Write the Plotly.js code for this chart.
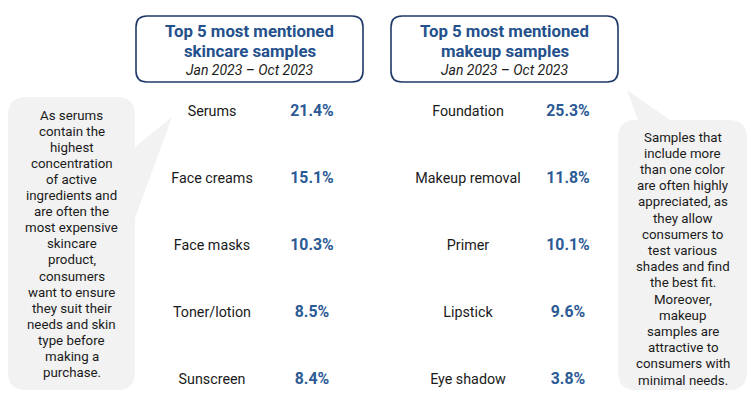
<!DOCTYPE html>
<html>
<head>
<meta charset="utf-8">
<script src="https://cdn.plot.ly/plotly-3.0.1.min.js"></script>
<style>html,body{margin:0;padding:0;background:#fff}#chart{width:752px;height:411px}</style>
</head>
<body>
<div id="chart"></div>
<script>
// ---- data ----
const skincareCategories = ["Serums", "Face creams", "Face masks", "Toner/lotion", "Sunscreen"];
const skincareShares = [21.4, 15.1, 10.3, 8.5, 8.4];
const makeupCategories = ["Foundation", "Makeup removal", "Primer", "Lipstick", "Eye shadow"];
const makeupShares = [25.3, 11.8, 10.1, 9.6, 3.8];
const skincareTitle = ["Top 5 most mentioned", "skincare samples"];
const makeupTitle = ["Top 5 most mentioned", "makeup samples"];
const periodLabel = "Jan 2023 \u2013 Oct 2023";
const skincareNote = ["As serums", "contain the", "highest", "concentration", "of active", "ingredients and", "are often the", "most expensive", "skincare", "product,", "consumers", "want to ensure", "they suit their", "needs and skin", "type before", "making a", "purchase."];
const makeupNote = ["Samples that", "include more", "than one color", "are often highly", "appreciated, as", "they allow", "consumers to", "test various", "shades and find", "the best fit.", "Moreover,", "makeup", "samples are", "attractive to", "consumers with", "minimal needs."];

// ---- styles ----
const FONT = "Roboto, 'Open Sans', Arial, sans-serif";
const TXT = "#1a1a1a";
const BLUE = "#2B5A95";
const TITLEBLUE = "#24508C";
const BORDER = "#1F3A68";
const BUBBLE = "#F2F2F2";

const rows = skincareCategories.map((_, i) => i);
const fmt = v => v.toFixed(1) + "%";

function col(xpos, texts, size, color, bold) {
  return {
    type: "scatter", mode: "text", xaxis: "x", yaxis: "y2",
    x: texts.map(() => xpos), y: rows, text: texts,
    textposition: "middle center",
    textfont: {family: FONT, size: size, color: color, weight: bold ? 700 : 400},
    hoverinfo: "skip", showlegend: false, cliponaxis: false
  };
}

const data = [
  col(212, skincareCategories, 14.3, TXT, false),
  col(312, skincareShares.map(fmt), 15.8, BLUE, true),
  col(468, makeupCategories, 14.3, TXT, false),
  col(568, makeupShares.map(fmt), 15.8, BLUE, true)
];

function roundRect(x0, y0, x1, y1, r) {
  return `M ${x0+r} ${y0} H ${x1-r} Q ${x1} ${y0} ${x1} ${y0+r} V ${y1-r} Q ${x1} ${y1} ${x1-r} ${y1} H ${x0+r} Q ${x0} ${y1} ${x0} ${y1-r} V ${y0+r} Q ${x0} ${y0} ${x0+r} ${y0} Z`;
}
function leftBubble(x0, y0, x1, y1, r, pA, tipX, tipY, pB) {
  return `M ${x0+r} ${y0} H ${x1-r} Q ${x1} ${y0} ${x1} ${y0+r} V ${pA} L ${tipX} ${tipY} L ${x1} ${pB} V ${y1-r} Q ${x1} ${y1} ${x1-r} ${y1} H ${x0+r} Q ${x0} ${y1} ${x0} ${y1-r} V ${y0+r} Q ${x0} ${y0} ${x0+r} ${y0} Z`;
}
function topBubble(x0, y0, x1, y1, r, pA, tipX, tipY, pB) {
  return `M ${x0+r} ${y0} H ${pA} L ${tipX} ${tipY} L ${pB} ${y0} H ${x1-r} Q ${x1} ${y0} ${x1} ${y0+r} V ${y1-r} Q ${x1} ${y1} ${x1-r} ${y1} H ${x0+r} Q ${x0} ${y1} ${x0} ${y1-r} V ${y0+r} Q ${x0} ${y0} ${x0+r} ${y0} Z`;
}

const shapes = [
  {type: "path", xref: "x", yref: "y", path: roundRect(136, 16, 363, 82, 11), line: {color: BORDER, width: 1.6}, fillcolor: "rgba(0,0,0,0)", layer: "below"},
  {type: "path", xref: "x", yref: "y", path: roundRect(391, 16, 618, 82, 11), line: {color: BORDER, width: 1.6}, fillcolor: "rgba(0,0,0,0)", layer: "below"},
  {type: "path", xref: "x", yref: "y", path: leftBubble(8, 97, 135, 390, 18, 147, 172, 117, 218), line: {width: 0}, fillcolor: BUBBLE, layer: "below"},
  {type: "path", xref: "x", yref: "y", path: topBubble(618, 120, 747, 390, 18, 638, 627, 90, 670), line: {width: 0}, fillcolor: BUBBLE, layer: "below"}
];

const ann = (x, y, text, size, color, bold, italic) => ({
  xref: "x", yref: "y", x: x, y: y, text: text, showarrow: false,
  xanchor: "center", yanchor: "middle", align: "center",
  font: {family: FONT, size: size, color: color, weight: bold ? 700 : 400, style: italic ? "italic" : "normal"}
});

const annotations = [];
function lines(arr, x, y0, step, size, color, bold, italic) {
  arr.forEach((t, i) => annotations.push(ann(x, y0 + i * step, t, size, color, bold, italic)));
}
lines(skincareTitle, 249.5, 30.5, 20.5, 16.8, TITLEBLUE, true, false);
lines(makeupTitle, 504.5, 30.5, 20.5, 16.8, TITLEBLUE, true, false);
annotations.push(ann(249.5, 70, periodLabel, 14, TXT, false, true));
annotations.push(ann(504.5, 70, periodLabel, 14, TXT, false, true));
lines(skincareNote, 71.5, 115.5, 16.05, 13.3, TXT, false, false);
lines(makeupNote, 682.5, 137, 16.2, 13.3, TXT, false, false);

const layout = {
  width: 752, height: 411,
  margin: {l: 0, r: 0, t: 0, b: 0},
  paper_bgcolor: "#fff", plot_bgcolor: "#fff",
  xaxis: {range: [0, 752], visible: false, fixedrange: true},
  yaxis: {range: [411, 0], visible: false, fixedrange: true},
  yaxis2: {overlaying: "y", range: [(411 - 112) / 67, -112 / 67], visible: false, fixedrange: true},
  shapes: shapes,
  annotations: annotations,
  showlegend: false
};

Plotly.newPlot("chart", data, layout, {displayModeBar: false, staticPlot: true});
</script>
</body>
</html>
